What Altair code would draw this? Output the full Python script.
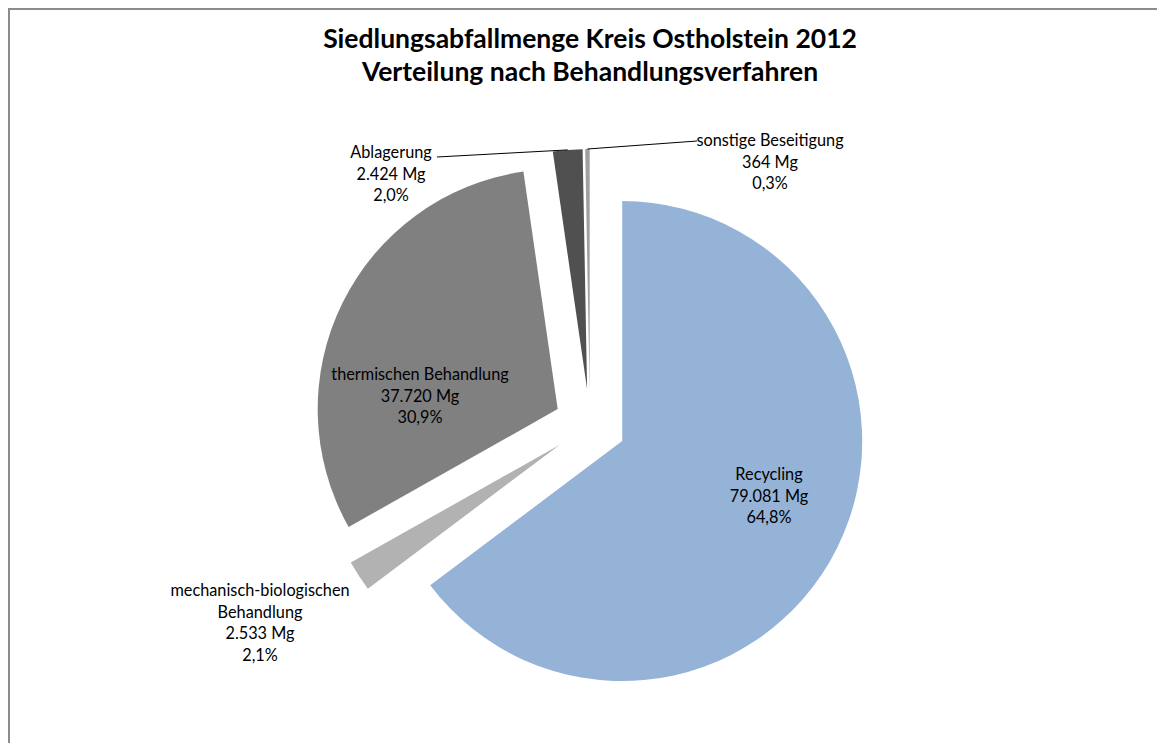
import altair as alt
import pandas as pd

# ---- data ----
categories = ["Recycling", "mechanisch-biologischen Behandlung", "thermischen Behandlung",
              "Ablagerung", "sonstige Beseitigung"]
label_names = ["Recycling", "mechanisch-biologischen\nBehandlung", "thermischen Behandlung",
               "Ablagerung", "sonstige Beseitigung"]
tonnes = [79081, 2533, 37720, 2424, 364]

title_lines = ["Siedlungsabfallmenge Kreis Ostholstein 2012",
               "Verteilung nach Behandlungsverfahren"]

# ---- styles / layout ----
colors = ["#95B3D7", "#B2B2B2", "#808080", "#505050", "#A0A0A0"]
W, H = 1149, 735
CX, CY = 582, 417      # pie centre (pixels)
R = 240                # pie radius
EXPLODE = 36           # explosion distance
# first-line centre offsets of each label from pie centre
label_dx = [179, -330, -170, -199, 180]
label_dy = [50, 166, -50, -272, -284]
# leader line start offsets from pie centre
leader_dx = [0, 0, 0, -153, 107]
leader_dy = [0, 0, 0, -268, -284]
has_leader = [False, False, False, True, True]
FONT = "Lato"

total = sum(tonnes)


def de_int(v):
    return f"{v:,}".replace(",", ".")


def de_pct(v):
    return f"{100 * v / total:.1f}".replace(".", ",") + "%"


texts = [f"{n}\n{de_int(v)} Mg\n{de_pct(v)}" for n, v in zip(label_names, tonnes)]

df = pd.DataFrame({
    "cat": categories,
    "v": tonnes,
    "order": list(range(len(categories))),
    "txt": texts,
    "ldx": label_dx,
    "ldy": label_dy,
    "sdx": leader_dx,
    "sdy": leader_dy,
    "lead": has_leader,
})

base = (
    alt.Chart(df)
    .transform_window(cum="sum(v)", sort=[alt.SortField("order")], frame=[None, 0])
    .transform_joinaggregate(total="sum(v)")
    .transform_calculate(
        a1="2*PI*datum.cum/datum.total",
        a0="2*PI*(datum.cum-datum.v)/datum.total",
    )
    .transform_calculate(mid="(datum.a0+datum.a1)/2")
    .transform_calculate(
        cx=f"{CX}+{EXPLODE}*sin(datum.mid)",
        cy=f"{CY}-{EXPLODE}*cos(datum.mid)",
    )
    .transform_calculate(
        ox=f"datum.cx+{R}*sin(datum.mid)",
        oy=f"datum.cy-{R}*cos(datum.mid)",
        lx=f"{CX}+datum.ldx",
        ly=f"{CY}+datum.ldy",
        sx=f"{CX}+datum.sdx",
        sy=f"{CY}+datum.sdy",
    )
)

arcs = base.mark_arc(radius=R, strokeWidth=0).encode(
    theta=alt.Theta("a0:Q", scale=None),
    theta2="a1:Q",
    x=alt.X("cx:Q", scale=None),
    y=alt.Y("cy:Q", scale=None),
    color=alt.Color("cat:N", scale=alt.Scale(domain=categories, range=colors), legend=None),
)

labels = base.mark_text(
    lineBreak="\n", font=FONT, fontSize=16.3, lineHeight=21.5,
    align="center", baseline="middle", color="#000000",
).encode(
    x=alt.X("lx:Q", scale=None),
    y=alt.Y("ly:Q", scale=None),
    text="txt:N",
)

leaders = base.transform_filter("datum.lead").mark_rule(color="#000000", strokeWidth=1).encode(
    x=alt.X("sx:Q", scale=None),
    y=alt.Y("sy:Q", scale=None),
    x2="ox:Q",
    y2="oy:Q",
)

title = alt.Chart(pd.DataFrame({"t": ["\n".join(title_lines)]})).mark_text(
    lineBreak="\n", font=FONT, fontSize=26.5, fontWeight="bold", lineHeight=33,
    align="center", baseline="middle", color="#000000",
).encode(text="t:N", x=alt.value(582), y=alt.value(32))

# chart frame: only the top and left edges are visible in the reference
frame_df = pd.DataFrame({"fx": [1, 1, W], "fy": [H, 1, 1], "k": [0, 1, 2]})
frame = alt.Chart(frame_df).mark_line(color="#8C8C8C", strokeWidth=2).encode(
    x=alt.X("fx:Q", scale=None),
    y=alt.Y("fy:Q", scale=None),
    order="k:Q",
)

chart = (
    alt.layer(frame, arcs, leaders, labels, title)
    .properties(width=W, height=H, padding=0, autosize=alt.AutoSizeParams(type="none"),
                background="white")
    .configure_view(strokeWidth=0, strokeOpacity=0, stroke="transparent")
)

chart.save("out.html", embed_options={"renderer": "svg", "actions": False})
